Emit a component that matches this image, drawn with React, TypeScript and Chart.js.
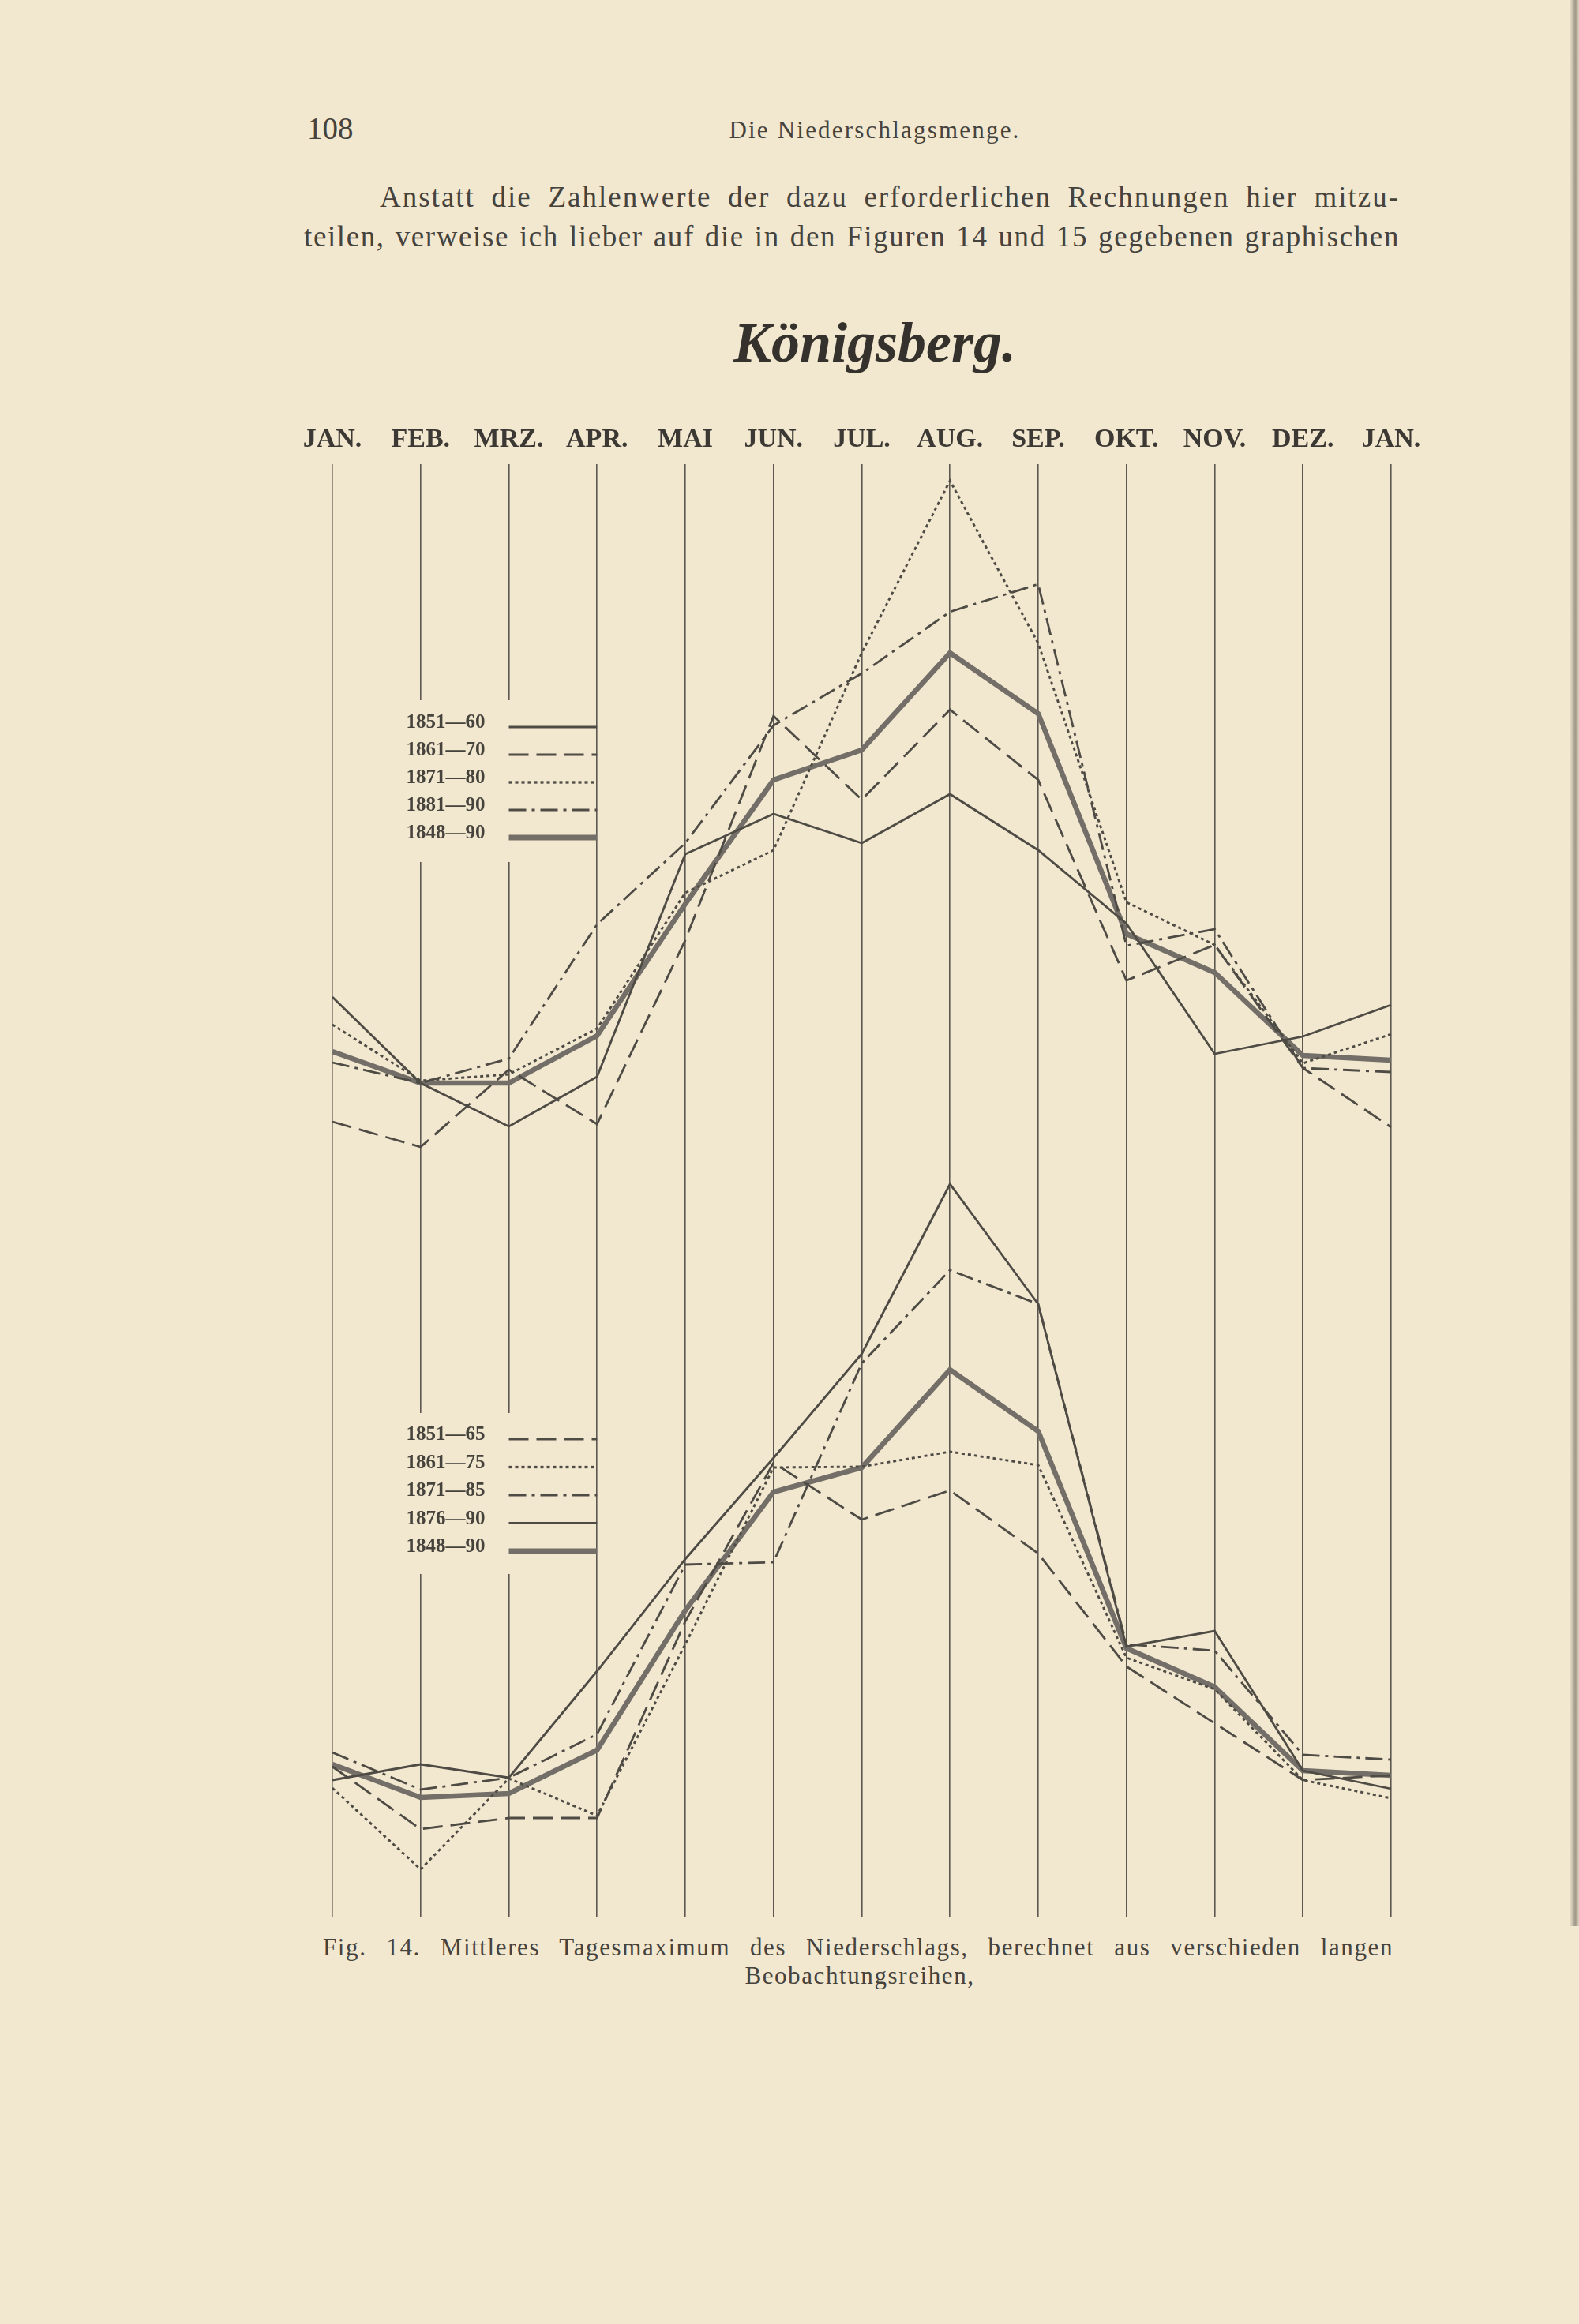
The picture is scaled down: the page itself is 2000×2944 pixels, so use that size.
import React, { useEffect, useRef } from "react";
import { Chart, registerables } from "chart.js";

Chart.register(...registerables);

// ---------- data ----------
const MONTHS = ["JAN.", "FEB.", "MRZ.", "APR.", "MAI", "JUN.", "JUL.", "AUG.", "SEP.", "OKT.", "NOV.", "DEZ.", "JAN."];

// upper panel (relative heights)
const TOP_1851_60 = [23.7, 12.8, 7.3, 13.6, 41.8, 46.9, 43.2, 49.4, 42.3, 33.0, 16.5, 18.7, 22.7];
const TOP_1861_70 = [7.9, 4.7, 14.5, 7.6, 30.9, 59.3, 48.7, 60.1, 51.2, 25.8, 30.3, 14.7, 7.2];
const TOP_1871_80 = [20.2, 13.1, 13.9, 19.7, 36.9, 42.3, 67.3, 89.1, 68.5, 35.7, 30.3, 15.3, 19.0];
const TOP_1881_90 = [15.4, 12.8, 15.9, 32.9, 43.2, 58.1, 64.7, 72.5, 76.0, 30.2, 32.3, 14.7, 14.2];
const TOP_1848_90 = [16.8, 12.8, 12.8, 18.8, 35.5, 51.2, 55.0, 67.3, 59.6, 31.7, 26.8, 16.3, 15.7];
const TOP_LABELS = ["1851—60", "1861—70", "1871—80", "1881—90", "1848—90"];

// lower panel
const BOT_1851_65 = [19.0, 11.1, 12.5, 12.5, 37.4, 57.5, 50.3, 54.0, 46.0, 31.7, 24.5, 17.3, 17.9];
const BOT_1861_75 = [16.3, 6.0, 17.5, 12.8, 34.5, 56.9, 57.0, 58.9, 57.2, 32.8, 28.8, 17.3, 15.0];
const BOT_1871_85 = [20.8, 16.1, 17.6, 23.1, 44.6, 44.9, 70.1, 81.9, 77.6, 34.5, 33.7, 20.5, 19.9];
const BOT_1876_90 = [17.3, 19.3, 17.6, 31.1, 45.3, 58.1, 71.3, 92.8, 77.6, 34.2, 36.2, 18.5, 16.2];
const BOT_1848_90 = [19.3, 15.1, 15.6, 21.1, 38.8, 53.8, 56.9, 69.3, 61.5, 34.0, 29.1, 18.5, 17.9];
const BOT_LABELS = ["1851—65", "1861—75", "1871—85", "1876—90", "1848—90"];

// ---------- styles ----------
const PAPER = "#f2e8d0";
const INK = "#46423c";
const LINE = "#4e4a44";

type St = { dash: number[]; width: number; color: string };
const SOLID: St = { dash: [], width: 2.8, color: LINE };
const DASHED: St = { dash: [25, 10], width: 2.8, color: LINE };
const DOTTED: St = { dash: [4, 4], width: 2.9, color: LINE };
const DASHDOT: St = { dash: [22, 7, 4, 7], width: 2.8, color: LINE };
const THICK: St = { dash: [], width: 6.5, color: "#736e67" };

const TOP_SERIES: [string, number[], St][] = [
  [TOP_LABELS[0], TOP_1851_60, SOLID],
  [TOP_LABELS[1], TOP_1861_70, DASHED],
  [TOP_LABELS[2], TOP_1871_80, DOTTED],
  [TOP_LABELS[3], TOP_1881_90, DASHDOT],
  [TOP_LABELS[4], TOP_1848_90, THICK],
];
const BOT_SERIES: [string, number[], St][] = [
  [BOT_LABELS[0], BOT_1851_65, DASHED],
  [BOT_LABELS[1], BOT_1861_75, DOTTED],
  [BOT_LABELS[2], BOT_1871_85, DASHDOT],
  [BOT_LABELS[3], BOT_1876_90, SOLID],
  [BOT_LABELS[4], BOT_1848_90, THICK],
];

const legendPlugin = {
  id: "panelLegends",
  beforeDatasetsDraw(chart: any, _args: any, opts: any) {
    const ctx = chart.ctx as CanvasRenderingContext2D;
    const x = chart.scales.x;
    for (const panel of opts.panels) {
      const y = chart.scales[panel.axis];
      const gl = x.getPixelForValue(1) - 30;
      const gr = x.getPixelForValue(3) - 3;
      const gt = y.getPixelForValue(panel.gapTop);
      const gb = y.getPixelForValue(panel.gapBottom);
      ctx.save();
      ctx.fillStyle = PAPER;
      ctx.fillRect(gl, gt, gr - gl, gb - gt);
      panel.series.forEach((s: [string, number[], St], i: number) => {
        const cy = y.getPixelForValue(panel.rowStart - i * panel.rowStep);
        ctx.font = 'bold 25px "Liberation Serif"';
        ctx.fillStyle = INK;
        ctx.textAlign = "right";
        ctx.textBaseline = "middle";
        ctx.fillText(s[0], x.getPixelForValue(2) - 30, cy);
        const st = s[2];
        ctx.setLineDash(st.dash);
        ctx.lineWidth = st.width + (st === THICK ? 0.5 : 0.4);
        ctx.strokeStyle = st.color;
        ctx.lineCap = "butt";
        ctx.beginPath();
        ctx.moveTo(x.getPixelForValue(2), cy + 5);
        ctx.lineTo(x.getPixelForValue(3), cy + 5);
        ctx.stroke();
      });
      ctx.restore();
    }
  },
};

function toDataset(s: [string, number[], St], axis: string) {
  const st = s[2];
  return {
    label: s[0],
    data: s[1],
    yAxisID: axis,
    borderColor: st.color,
    borderWidth: st.width,
    borderDash: st.dash,
    borderCapStyle: "butt",
    borderJoinStyle: "miter",
    pointRadius: 0,
    tension: 0,
    fill: false,
  };
}

function FigureChart() {
  const ref = useRef<HTMLCanvasElement | null>(null);
  useEffect(() => {
    if (!ref.current) return;
    const chart = new Chart(ref.current, {
      type: "line",
      data: {
        labels: MONTHS,
        datasets: [
          ...TOP_SERIES.map((s) => toDataset(s, "yT")),
          ...BOT_SERIES.map((s) => toDataset(s, "yB")),
        ] as any,
      },
      options: {
        animation: false,
        responsive: false,
        devicePixelRatio: 1,
        layout: { padding: { left: 121, right: 138, top: 27.2, bottom: 12 } },
        plugins: {
          legend: { display: false },
          tooltip: { enabled: false },
          panelLegends: {
            panels: [
              { axis: "yT", series: TOP_SERIES, gapTop: 61.3, gapBottom: 40.8, rowStart: 58.4, rowStep: 3.5 },
              { axis: "yB", series: BOT_SERIES, gapTop: 63.8, gapBottom: 43.4, rowStart: 61.0, rowStep: 3.55 },
            ],
          },
        } as any,
        scales: {
          x: {
            type: "category",
            position: "top",
            offset: false,
            grid: { display: true, color: "#5c5851", lineWidth: 1.6, drawTicks: false, offset: false },
            border: { display: false },
            ticks: {
              autoSkip: false,
              maxRotation: 0,
              padding: 10,
              color: "#3c3833",
              font: { family: "Liberation Serif", size: 34, weight: "bold" },
            },
          },
          yT: { type: "linear", display: false, min: -92.8, max: 91.2 },
          yB: { type: "linear", display: false, min: 0, max: 184 },
        },
      },
      plugins: [legendPlugin],
    });
    return () => chart.destroy();
  }, []);
  return (
    <canvas
      ref={ref}
      width={1600}
      height={1940}
      style={{ position: "absolute", left: 300, top: 500, width: 1600, height: 1940 }}
    />
  );
}

export default function App() {
  useEffect(() => {
    document.body.style.margin = "0";
    document.body.style.background = PAPER;
    document.documentElement.style.background = PAPER;
  }, []);
  const serif = '"Liberation Serif", "DejaVu Serif", serif';
  return (
    <div
      style={{
        position: "relative",
        width: 2000,
        height: 2944,
        overflow: "hidden",
        background: PAPER,
        fontFamily: serif,
        color: INK,
      }}
    >
      <div style={{ position: "absolute", left: 389, top: 144, fontSize: 39, lineHeight: "38px" }}>108</div>
      <div
        style={{
          position: "absolute",
          left: 858,
          width: 500,
          top: 150,
          textAlign: "center",
          fontSize: 31,
          lineHeight: "30px",
          letterSpacing: 2.2,
        }}
      >
        Die Niederschlagsmenge.
      </div>
      <div
        style={{
          position: "absolute",
          left: 385,
          width: 1388,
          top: 232,
          fontSize: 37,
          lineHeight: "36px",
          letterSpacing: 2,
          textAlign: "justify",
          textAlignLast: "justify",
          textIndent: 96,
          whiteSpace: "nowrap",
        }}
      >
        Anstatt die Zahlenwerte der dazu erforderlichen Rechnungen hier mitzu-
      </div>
      <div
        style={{
          position: "absolute",
          left: 385,
          width: 1388,
          top: 282,
          fontSize: 37,
          lineHeight: "36px",
          letterSpacing: 1.6,
          textAlign: "justify",
          textAlignLast: "justify",
        }}
      >
        teilen, verweise ich lieber auf die in den Figuren 14 und 15 gegebenen graphischen
      </div>
      <div
        style={{
          position: "absolute",
          left: 808,
          width: 600,
          top: 396,
          textAlign: "center",
          fontSize: 72,
          lineHeight: "76px",
          fontWeight: "bold",
          fontStyle: "italic",
          color: "#35312c",
        }}
      >
        Königsberg.
      </div>
      <FigureChart />
      <div
        style={{
          position: "absolute",
          left: 409,
          width: 1356,
          top: 2452,
          fontSize: 31,
          lineHeight: "30px",
          textAlign: "justify",
          textAlignLast: "justify",
          letterSpacing: 1.6,
        }}
      >
        Fig. 14. Mittleres Tagesmaximum des Niederschlags, berechnet aus verschieden langen
      </div>
      <div
        style={{
          position: "absolute",
          left: 789,
          width: 600,
          top: 2488,
          fontSize: 31,
          lineHeight: "30px",
          textAlign: "center",
          letterSpacing: 1.6,
        }}
      >
        Beobachtungsreihen,
      </div>
      <div
        style={{
          position: "absolute",
          left: 1988,
          top: 0,
          width: 12,
          height: 2440,
          background: "linear-gradient(to right, rgba(120,112,100,0) 0%, rgba(90,84,76,0.55) 60%, rgba(120,112,100,0.2) 100%)",
        }}
      />
    </div>
  );
}
